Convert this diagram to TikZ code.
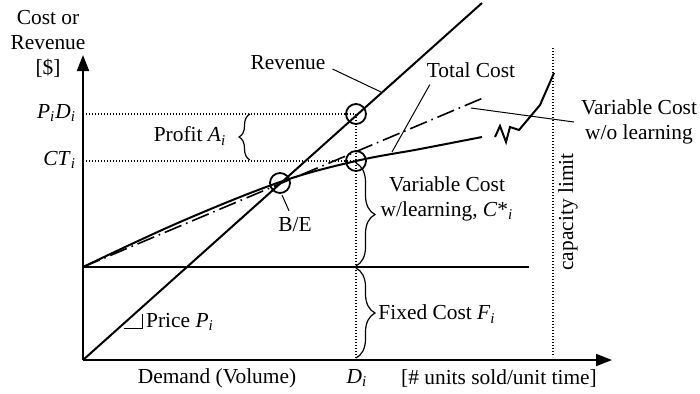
\documentclass[tikz,border=0pt]{standalone}
\usepackage{fontspec}
\setmainfont{Liberation Serif}
\usepackage{tikz}
\usetikzlibrary{arrows.meta, decorations.pathreplacing}

\newcommand{\isub}[2]{\textit{#1}\textsubscript{\textit{#2}}}

\tikzset{
    axis/.style={->, line width=1pt},
    curve/.style={line width=1pt},
    lead/.style={line width=0.5pt},
    guide/.style={line width=0.6pt, dash pattern=on 0.6pt off 0.9pt},
    ring/.style={line width=0.9pt},
    bracer/.style={decorate, decoration={brace, amplitude=9.5pt}, line width=0.6pt},
    bracel/.style={decorate, decoration={brace, amplitude=5.5pt}, line width=0.6pt},
    every node/.style={font=\fontsize{10.7pt}{12.5pt}\selectfont},
}

\begin{document}
\begin{tikzpicture}[x=0.5pt, y=-0.5pt, >={Triangle[length=8pt, width=6pt]}]
    \useasboundingbox (0,0) rectangle (700,393);

    % points
    \coordinate (O) at (83,360);
    \coordinate (xend) at (612,360);
    \coordinate (yend) at (83,55);
    \coordinate (F) at (83,267);
    \coordinate (Fend) at (529,267);
    \coordinate (BE) at (280,183);
    \coordinate (PD) at (356,114);
    \coordinate (CT) at (356,161);
    \coordinate (Di) at (356,360);
    \coordinate (revtop) at (482,3);
    \coordinate (tcend) at (483,98);
    \coordinate (captop) at (553,48);
    \coordinate (capbot) at (553,357);

    % axes
    \draw[axis] (O) -- (xend);
    \draw[axis] (O) -- (yend);

    % guides
    \draw[guide] (83,114) -- (PD);
    \draw[guide] (83,161) -- (CT);
    \draw[guide] (PD) -- (Di);
    \draw[guide] (captop) -- (capbot);

    % fixed cost, revenue, cost curves
    \draw[curve] (F) -- (Fend);
    \draw[curve] (O) -- (revtop);
    \draw[line width=0.8pt, dash pattern=on 9pt off 2.5pt on 0.8pt off 2.5pt] (F) -- (tcend);
    \draw[curve] plot[smooth, tension=0.6] coordinates {(83,267) (180,222) (280,182) (356,161) (420,149) (482,137)};
    \draw[curve] (495,137) -- (500,126) -- (506,142) -- (510,127) -- (519,130) -- (540,105) -- (554,73);

    % circles
    \draw[ring] (BE) circle (5pt);
    \draw[ring] (PD) circle (5pt);
    \draw[ring] (CT) circle (5pt);

    % price slope mark
    \draw[lead] (124,328) -- (142,328) -- (142,314);

    % braces
    \draw[bracel] (250,160) -- (250,114);
    \draw[bracer] (356,163) -- (356,266);
    \draw[bracer] (356,268) -- (356,358);

    % labels
    \node[align=center] (ylab) at (48,44) {Cost or\\Revenue\\{[\$]}};
    \node[anchor=east] (pd) at (83,113) {\isub{P}{i}\isub{D}{i}};
    \node[anchor=east] (ct) at (83,160) {\textit{CT}\textsubscript{\textit{i}}};
    \node (profit) at (190,136) {Profit \isub{A}{i}};
    \node (rev) at (288,63) {Revenue};
    \node (tc) at (471,70) {Total Cost};
    \node[align=center, anchor=west] (vcwo) at (574,122) {Variable Cost\\w/o learning};
    \node[align=center] (vcl) at (447,199) {Variable Cost\\w/learning, \textit{C}*\textsubscript{\textit{i}}};
    \node (fc) at (437,314) {Fixed Cost \isub{F}{i}};
    \node (price) at (180,322) {Price \isub{P}{i}};
    \node (be) at (295,225) {B/E};
    \node[rotate=90] (cap) at (568,212) {capacity limit};
    \node (dem) at (217,378) {Demand (Volume)};
    \node (di) at (357,378) {\isub{D}{i}};
    \node (units) at (499,378) {[\# units sold/unit time]};

    % leaders
    \coordinate (revpt) at (381,92);
    \coordinate (tcpt) at (392,152);
    \coordinate (vcpt) at (471,108);
    \coordinate (bept) at (282,195);
    \draw[lead] ([yshift=-3pt]rev.east) -- (revpt);
    \draw[lead] ([xshift=5pt]tc.south west) -- (tcpt);
    \draw[lead] (vcwo.west) -- (vcpt);
    \draw[lead] ([xshift=-3pt]be.north) -- (bept);
\end{tikzpicture}
\end{document}
